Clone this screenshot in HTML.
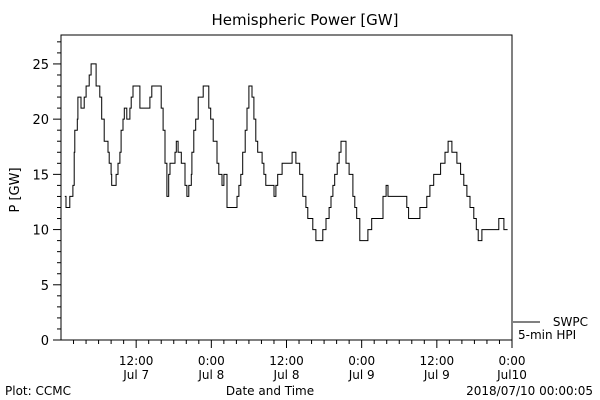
<!DOCTYPE html>
<html><head><meta charset="utf-8"><style>
body{margin:0;background:#fff;}
svg{display:block;font-family:"DejaVu Sans","Liberation Sans",sans-serif;}
</style></head><body>
<svg id="chart" width="600" height="400" viewBox="0 0 600 400">
<text x="305" y="25" font-size="15" text-anchor="middle">Hemispheric Power [GW]</text>
<text transform="translate(19,190) rotate(-90)" font-size="13" text-anchor="middle">P [GW]</text>
<text x="270" y="395" font-size="12" text-anchor="middle">Date and Time</text>
<text x="5" y="395" font-size="12">Plot: CCMC</text>
<text x="593" y="395" font-size="12" text-anchor="end">2018/07/10 00:00:05</text>
<rect x="61" y="35" width="451" height="305" fill="none" stroke="#000" stroke-width="1"/>
<g id="yaxis"></g>
<g id="xaxis"></g>
<path id="series" fill="none" stroke="#000" stroke-width="1"/>
<line x1="513" y1="322" x2="540" y2="322" stroke="#000"/>
<text x="588" y="326" font-size="12" text-anchor="end">SWPC</text>
<text x="518" y="339" font-size="12">5-min HPI</text>
</svg>
<script>
const hours=[0.6,0.8,1.4,1.9,2.1,2.2,2.6,2.7,3.2,3.7,4.0,4.5,4.8,5.6,6.2,6.5,6.9,7.5,7.7,8.0,8.1,8.6,8.8,9.1,9.4,9.6,9.9,10.1,10.5,11.0,11.2,11.5,11.8,12.6,13.1,14.2,14.5,15.0,16.0,16.3,16.6,16.9,17.2,17.4,17.7,18.2,18.4,18.7,19.2,19.8,20.1,20.4,20.8,20.9,21.2,21.5,21.9,22.2,22.7,23.0,23.6,23.9,24.3,24.9,25.2,25.7,26.0,26.5,27.3,28.1,28.4,28.7,29.0,29.4,29.7,30.0,30.5,30.8,31.1,31.4,32.1,32.4,32.7,33.0,33.5,34.0,34.3,34.6,35.3,35.6,36.2,36.9,37.5,38.0,38.1,38.6,39.1,39.4,39.7,40.2,40.7,40.9,41.8,42.3,42.8,43.1,43.4,43.7,44.1,44.4,44.7,45.5,46.0,46.6,46.9,47.2,47.7,48.0,49.0,49.6,50.1,51.4,51.9,52.2,52.5,55.2,55.5,55.9,56.8,57.3,57.9,58.4,58.9,59.5,60.2,60.6,61.3,61.8,62.4,63.2,63.8,64.3,64.8,65.3,65.9,66.3,66.6,67.0,67.2,69.9,70.4,70.7,71.3,71.5];
const power=[13,12,13,14,17,19,20,22,21,22,23,24,25,23,22,20,18,17,16,15,14,14,15,16,17,19,20,21,20,21,22,23,23,21,21,22,23,23,21,19,16,13,15,16,16,17,18,17,16,14,13,14,15,17,19,20,22,22,23,23,21,20,18,16,15,14,15,12,12,13,14,15,17,19,21,23,22,20,18,17,16,15,14,14,14,13,14,15,16,16,16,17,16,16,15,13,12,11,11,10,9,9,10,11,12,13,14,15,16,17,18,16,15,13,12,11,9,9,10,11,11,13,14,13,13,12,11,11,11,12,12,13,14,15,15,16,17,18,17,16,15,14,13,12,11,10,9,9,10,11,11,10];
const yTicks=["0","5","10","15","20","25"];
const xTickLabels=[["12:00","Jul 7"],["0:00","Jul 8"],["12:00","Jul 8"],["0:00","Jul 9"],["12:00","Jul 9"],["0:00","Jul10"]];
const ns="http://www.w3.org/2000/svg";
const X0=61,X1=512,Y0=340,Ymax=27.62,Hmax=72;
const sx=h=>X0+(h/Hmax)*(X1-X0);
const sy=v=>Y0-(v/Ymax)*(Y0-35);
function mk(tag,attrs,parent){const e=document.createElementNS(ns,tag);for(const k in attrs)e.setAttribute(k,attrs[k]);parent.appendChild(e);return e;}
const ya=document.getElementById('yaxis');
for(let v=0;v<=27;v++){const major=v%5===0;const l=mk('line',{x1:X0-(major?8:4),x2:X0,y1:sy(v),y2:sy(v),stroke:'#000'},ya);

}
yTicks.forEach(t=>{const e=mk('text',{x:X0-12,y:sy(+t)+5,'font-size':13,'text-anchor':'end'},ya);e.textContent=t;

});
const xa=document.getElementById('xaxis');
for(let h=2;h<=72;h+=2){const major=h%12===0;const l=mk('line',{x1:sx(h),x2:sx(h),y1:Y0,y2:Y0+(major?8:4),stroke:'#000'},xa);

}
xTickLabels.forEach((lab,i)=>{const h=12*(i+1);
const a=mk('text',{x:sx(h),y:365,'font-size':12,'text-anchor':'middle'},xa);a.textContent=lab[0];


const b=mk('text',{x:sx(h),y:379,'font-size':12,'text-anchor':'middle'},xa);b.textContent=lab[1];

});
let d='M'+sx(hours[0]).toFixed(1)+','+sy(power[0]).toFixed(1);
for(let i=1;i<hours.length;i++){d+=' H'+sx(hours[i]).toFixed(1)+' V'+sy(power[i]).toFixed(1);}
d+=' H'+sx(Hmax).toFixed(1);
document.getElementById('series').setAttribute('d',d);
</script>
</body></html>
